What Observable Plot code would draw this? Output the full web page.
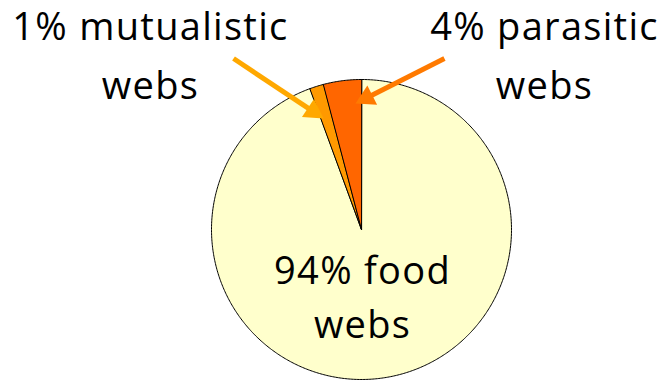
<!DOCTYPE html>
<html>
<head>
<meta charset="utf-8">
<script src="https://cdn.jsdelivr.net/npm/d3@7"></script>
<script src="https://cdn.jsdelivr.net/npm/@observablehq/plot@0.6"></script>
<style>
  html, body { margin: 0; padding: 0; background: #fff; }
  #chart svg { display: block; }
</style>
</head>
<body>
<div id="chart"></div>
<script>
// ---- data ----
const categories = ["food webs", "mutualistic webs", "parasitic webs"];
const shares = [94.4, 1.5, 4.1];
const labels = ["94% food\nwebs", "1% mutualistic\nwebs", "4% parasitic\nwebs"];
const colors = ["#FFFFCC", "#FF9900", "#FF6600"];
const arrowColors = ["none", "#FFA800", "#FF7A00"];

// ---- layout (pixels) ----
const W = 668, H = 381;
const cx = 361, cy = 229, R = 150;

// pie geometry from the data
const pie = d3.pie().sort(null).value(d => d.share);
const rows = categories.map((c, i) => ({name: c, share: shares[i], label: labels[i], color: colors[i], acolor: arrowColors[i]}));
const arcs = pie(rows);
const poly = [];
for (const a of arcs) {
  const n = Math.max(2, Math.ceil((a.endAngle - a.startAngle) / 0.01));
  poly.push({name: a.data.name, color: a.data.color, x: 0, y: 0});
  for (let k = 0; k <= n; k++) {
    const t = a.startAngle + (a.endAngle - a.startAngle) * k / n;
    poly.push({name: a.data.name, color: a.data.color, x: Math.sin(t), y: Math.cos(t)});
  }
}

// annotation anchors (in radius units): x, y, lineHeight
const textPos = {
  "food webs": [0.007, -0.109, 1.42],
  "mutualistic webs": [-1.407, 1.54, 1.55],
  "parasitic webs": [1.22, 1.54, 1.55]
};
const arrowPos = {
  "mutualistic webs": [-0.853, 1.14, -0.253, 0.74],
  "parasitic webs": [0.553, 1.14, -0.04, 0.84]
};
const headLen = 0.125, headHalf = 0.072;
const textRows = rows.map(r => ({...r, tx: textPos[r.name][0], ty: textPos[r.name][1], lh: textPos[r.name][2]}));
const shafts = [], heads = [];
for (const r of rows) {
  const p = arrowPos[r.name];
  if (!p) continue;
  const [x1, y1, x2, y2] = p;
  const L = Math.hypot(x2 - x1, y2 - y1);
  const ux = (x2 - x1) / L, uy = (y2 - y1) / L;
  const bx = x2 - ux * headLen, by = y2 - uy * headLen;
  shafts.push({name: r.name, color: r.acolor, x1, y1, x2: bx + ux * 0.01, y2: by + uy * 0.01});
  heads.push({name: r.name, color: r.acolor, x: x2, y: y2});
  heads.push({name: r.name, color: r.acolor, x: bx - uy * headHalf, y: by + ux * headHalf});
  heads.push({name: r.name, color: r.acolor, x: bx + uy * headHalf, y: by - ux * headHalf});
}

const textOpts = {x: "tx", y: "ty", text: "label", fill: "#000", fontSize: 38, textAnchor: "middle", lineAnchor: "top"};
const chart = Plot.plot({
  width: W,
  height: H,
  margin: 0,
  style: {background: "#fff", fontFamily: "'Open Sans', sans-serif", letterSpacing: "1.3px"},
  x: {domain: [-1, 1], range: [cx - R, cx + R], axis: null},
  y: {domain: [-1, 1], range: [cy + R, cy - R], axis: null},
  color: {type: "identity"},
  marks: [
    Plot.line(poly, {x: "x", y: "y", z: "name", fill: "color", stroke: "#000", strokeWidth: 1, curve: "linear-closed"}),
    Plot.link(shafts, {x1: "x1", y1: "y1", x2: "x2", y2: "y2", stroke: "color", strokeWidth: 5}),
    Plot.line(heads, {x: "x", y: "y", z: "name", fill: "color", stroke: "none", curve: "linear-closed"}),
    Plot.text(textRows.filter(d => d.lh > 1.5), {...textOpts, lineHeight: 1.55}),
    Plot.text(textRows.filter(d => d.lh <= 1.5), {...textOpts, lineHeight: 1.42})
  ]
});
document.getElementById("chart").appendChild(chart);
</script>
</body>
</html>
